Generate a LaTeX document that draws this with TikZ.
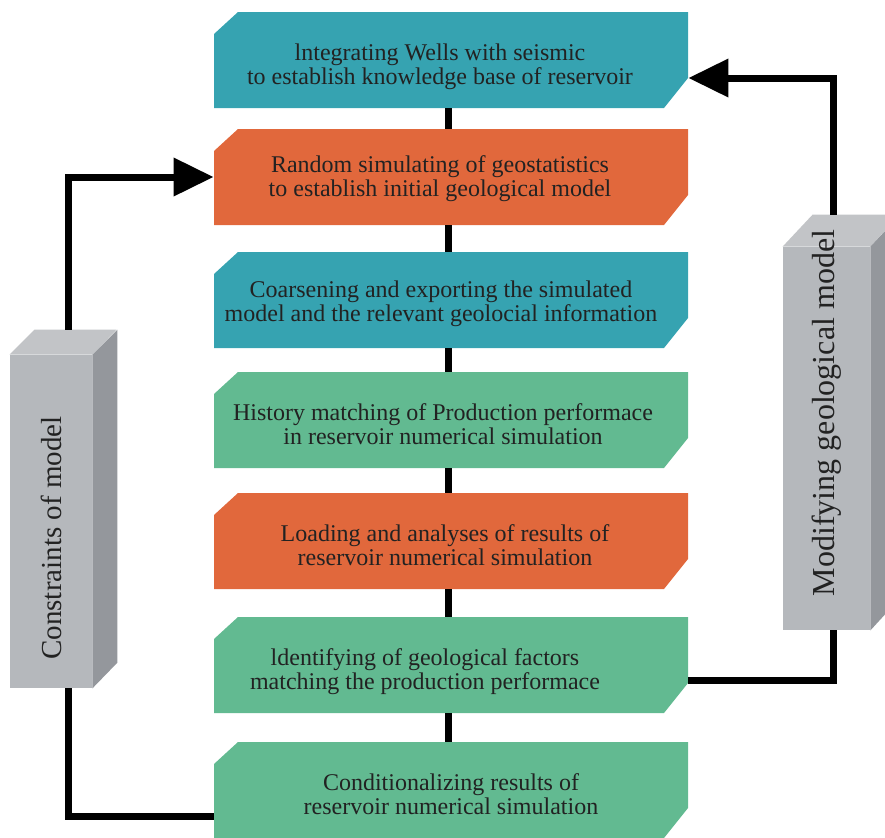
\documentclass[tikz,border=0pt]{standalone}
\usepackage{fontspec}
\setmainfont{Liberation Serif}
\usetikzlibrary{positioning,arrows.meta}

\definecolor{cteal}{RGB}{54,163,177}
\definecolor{corange}{RGB}{225,104,60}
\definecolor{cgreen}{RGB}{98,186,145}
\definecolor{cfront}{RGB}{181,184,188}
\definecolor{cside}{RGB}{148,151,156}
\definecolor{ctop}{RGB}{194,196,199}
\definecolor{ctext}{RGB}{34,34,34}

\tikzset{
  stage/.style={minimum width=237pt, minimum height=48pt, inner sep=0pt,
    path picture={\fill[#1] ([xshift=12pt]path picture bounding box.north west)
      -- (path picture bounding box.north east)
      -- ([yshift=15pt]path picture bounding box.south east)
      -- ([xshift=-12pt]path picture bounding box.south east)
      -- (path picture bounding box.south west)
      -- ([yshift=-11pt]path picture bounding box.north west) -- cycle;}},
  txt/.style={align=center, text=ctext, font=\fontsize{12}{12}\selectfont},
  pillar/.style={fill=cfront, inner sep=0pt},
  spine/.style={line width=3.5pt},
  flow/.style={line width=3.5pt},
  tip/.style={-{Triangle[length=20pt,width=18.5pt]}}
}

\begin{document}
\begin{tikzpicture}[x=0.5pt,y=-0.5pt]
    \useasboundingbox (0,0) rectangle (885,837);

    % stages
    \node[stage=cteal, label={[txt,xshift=-5.5pt,yshift=-3.5pt]center:lntegrating Wells with seismic\\to establish knowledge base of reservoir}] (s1) at (451,60) {};
    \node[stage=corange, label={[txt,xshift=-5.5pt,yshift=-1pt]center:Random simulating of geostatistics\\to establish initial geological model}] (s2) at (451,177) {};
    \node[stage=cteal, label={[txt,xshift=-5pt,yshift=-2pt]center:Coarsening and exporting the simulated\\model and the relevant geolocial information}] (s3) at (451,300) {};
    \node[stage=cgreen, label={[txt,xshift=-4pt,yshift=-2pt]center:History matching of Production performace\\in reservoir numerical simulation}] (s4) at (451,420) {};
    \node[stage=corange, label={[txt,xshift=-3pt,yshift=-2pt]center:Loading and analyses of results of\\reservoir numerical simulation}] (s5) at (451,541) {};
    \node[stage=cgreen, label={[txt,xshift=-13pt,yshift=-3.5pt]center:ldentifying of geological factors\\matching the production performace}] (s6) at (451,665) {};
    \node[stage=cgreen, label={[txt,yshift=-2pt]center:Conditionalizing results of\\reservoir numerical simulation}] (s7) at (451,790) {};

    \foreach \a/\b in {s1/s2,s2/s3,s3/s4,s4/s5,s5/s6,s6/s7}
        \draw[spine] ([xshift=-1.5pt]\a.south) -- ([xshift=-1.5pt]\b.north);

    % side blocks
    \node[pillar, minimum width=41pt, minimum height=166.5pt] (cons) at (51,521.5) {};
    \fill[ctop] (cons.north west) -- ++(25,-25) -- ++(82,0) -- (cons.north east) -- cycle;
    \fill[cside] (cons.north east) -- ++(25,-25) -- ++(0,333) -- (cons.south east) -- cycle;
    \node[txt, rotate=90, font=\fontsize{14.5}{14.5}\selectfont] (constxt) at ([yshift=-8.25pt]cons.center) {Constraints of model};

    \node[pillar, minimum width=43.5pt, minimum height=191.5pt] (modi) at (826.5,438.5) {};
    \fill[ctop] (modi.north west) -- ++(30,-32) -- ++(87,0) -- (modi.north east) -- cycle;
    \fill[cside] (modi.north east) -- ++(30,-32) -- ++(0,383) -- (modi.south east) -- cycle;
    \node[txt, rotate=90, font=\fontsize{16}{16}\selectfont] (moditxt) at ([yshift=12.75pt]modi.center) {Modifying geological model};

    % loops
    \draw[flow, tip] ([shift={(17,-25)}]cons.north) |- (s2.west);
    \draw[flow] ([xshift=8.5pt]cons.south) |- ([yshift=-13pt]s7.west);
    \draw[flow] ([yshift=-7.5pt]s6.east) -| ([xshift=3.25pt]modi.south);
    \draw[flow, tip] ([shift={(6.5,-32)}]modi.north) |- ([yshift=-9pt]s1.east);
\end{tikzpicture}
\end{document}
